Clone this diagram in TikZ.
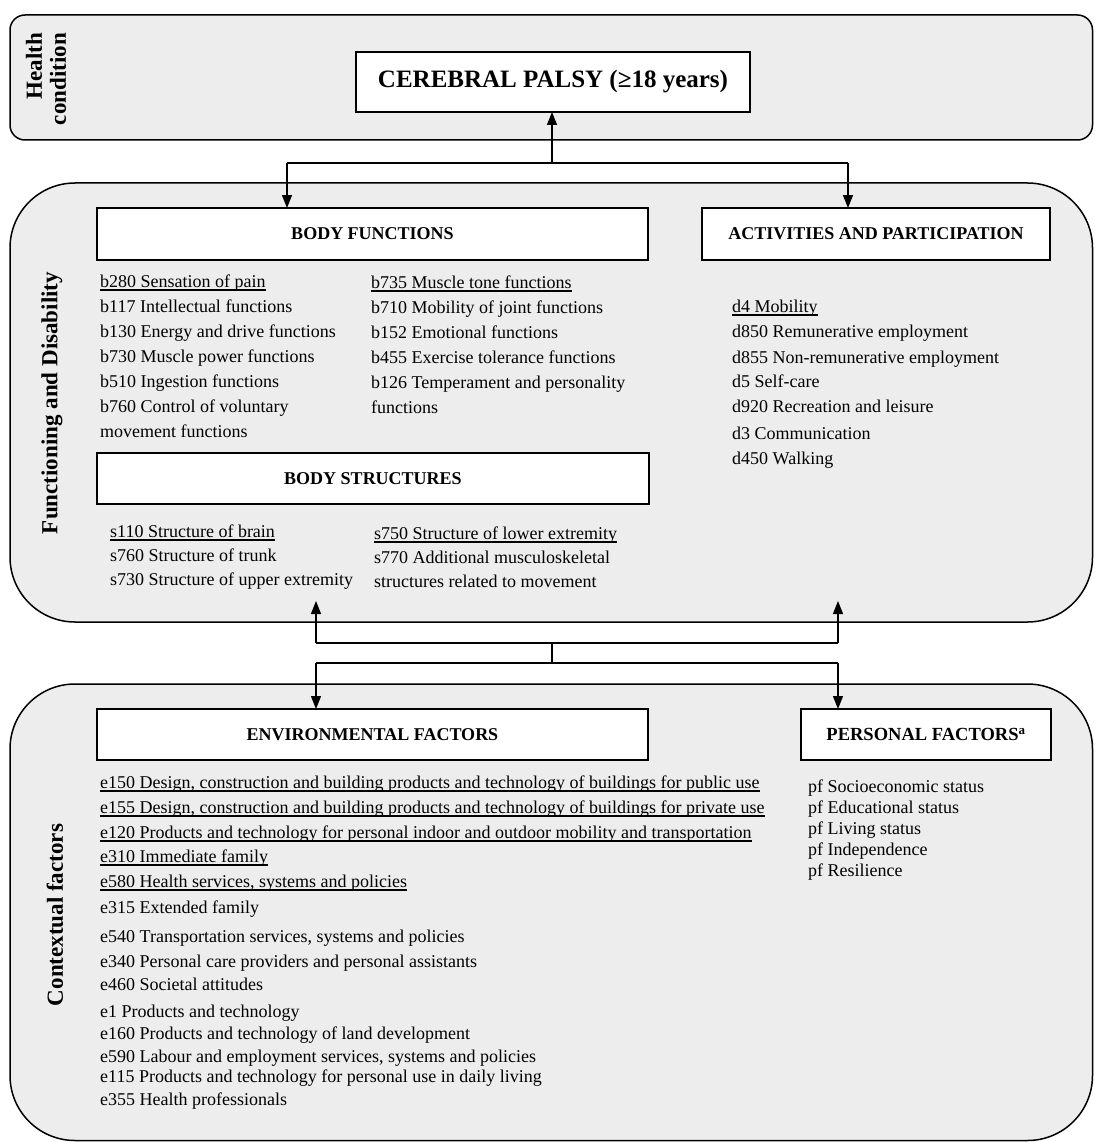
\documentclass[tikz,border=0pt]{standalone}
\usepackage{fontspec}
\setmainfont{Liberation Serif}
\usetikzlibrary{arrows.meta}
\definecolor{regfill}{HTML}{EDEDED}
\newcommand{\ulin}[1]{\setbox0=\hbox{#1}\rlap{\rule[-3.5pt]{\wd0}{1.6pt}}\box0}
\begin{document}
\begin{tikzpicture}[x=1pt,y=-1pt,
 region/.style={draw=black, line width=1.5pt, fill=regfill, inner sep=0pt, outer sep=0pt, anchor=north west},
 hbox/.style={draw=black, line width=1.6pt, fill=white, inner sep=0pt, outer sep=0pt, anchor=north west, font=\fontsize{18pt}{20pt}\selectfont\bfseries},
 item/.style={anchor=base west, inner sep=0pt, font=\fontsize{18pt}{22pt}\selectfont},
 side/.style={rotate=90, inner sep=0pt, font=\fontsize{23pt}{24pt}\selectfont\bfseries, align=right},
 conn/.style={line width=1.3pt, -{Triangle[length=13pt,width=10pt]}},
 wire/.style={line width=1.3pt}]
\useasboundingbox (0,0) rectangle (1094,1142);

% regions
\node[region, rounded corners=15pt, minimum width=1082.5pt, minimum height=125pt] (hcbox) at (10,15) {};
\node[region, rounded corners=65pt, minimum width=1082.5pt, minimum height=439pt] (fdbox) at (10,183) {};
\node[region, rounded corners=65pt, minimum width=1082.5pt, minimum height=456.5pt] (cfbox) at (10,684) {};

% side labels
\node[side] (hclab) at (46,79) {Health\\condition};
\node[side] (fdlab) at (52,403) {Functioning and Disability};
\node[side] (cflab) at (55,915) {Contextual factors};

% header boxes
\node[hbox, minimum width=394pt, minimum height=60pt, font=\fontsize{25pt}{28pt}\selectfont\bfseries] (cp) at (356,52) {CEREBRAL PALSY (≥18 years)};
\node[hbox, minimum width=551pt, minimum height=52pt] (bf) at (97,208) {BODY FUNCTIONS};
\node[hbox, minimum width=348pt, minimum height=52pt] (ap) at (702,208) {ACTIVITIES AND PARTICIPATION};
\node[hbox, minimum width=552pt, minimum height=51pt] (bs) at (97,453) {BODY STRUCTURES};
\node[hbox, minimum width=551pt, minimum height=51pt] (env) at (97,709) {ENVIRONMENTAL FACTORS};
\node[hbox, minimum width=250pt, minimum height=51pt, font=\fontsize{18.5pt}{20pt}\selectfont\bfseries] (pf) at (801,709) {PERSONAL FACTORS\textsuperscript{a}};

% body functions
\node[item] (b280) at (100,287) {\ulin{b280 Sensation of pain}};
\node[item] (b117) at (100,312) {b117 Intellectual functions};
\node[item] (b130) at (100,337) {b130 Energy and drive functions};
\node[item] (b730) at (100,362) {b730 Muscle power functions};
\node[item] (b510) at (100,387) {b510 Ingestion functions};
\node[item] (b760) at (100,412) {b760 Control of voluntary};
\node[item] (b760b) at (100,437) {movement functions};
\node[item] (b735) at (371,288) {\ulin{b735 Muscle tone functions}};
\node[item] (b710) at (371,313) {b710 Mobility of joint functions};
\node[item] (b152) at (371,338) {b152 Emotional functions};
\node[item] (b455) at (371,363) {b455 Exercise tolerance functions};
\node[item] (b126) at (371,388) {b126 Temperament and personality};
\node[item] (b126b) at (371,413) {functions};

% activities and participation
\node[item] (d4) at (732,312) {\ulin{d4 Mobility}};
\node[item] (d850) at (732,337) {d850 Remunerative employment};
\node[item] (d855) at (732,363) {d855 Non-remunerative employment};
\node[item] (d5) at (732,387) {d5 Self-care};
\node[item] (d920) at (732,412) {d920 Recreation and leisure};
\node[item] (d3) at (732,439) {d3 Communication};
\node[item] (d450) at (732,464) {d450 Walking};

% body structures
\node[item] (s110) at (110,537) {\ulin{s110 Structure of brain}};
\node[item] (s760) at (110,561) {s760 Structure of trunk};
\node[item] (s730) at (110,585) {s730 Structure of upper extremity};
\node[item] (s750) at (374,539) {\ulin{s750 Structure of lower extremity}};
\node[item] (s770) at (374,563) {s770 Additional musculoskeletal};
\node[item] (s770b) at (374,587) {structures related to movement};

% environmental factors
\node[item] (e150) at (100,788) {\ulin{e150 Design, construction and building products and technology of buildings for public use}};
\node[item] (e155) at (100,813) {\ulin{e155 Design, construction and building products and technology of buildings for private use}};
\node[item] (e120) at (100,838) {\ulin{e120 Products and technology for personal indoor and outdoor mobility and transportation}};
\node[item] (e310) at (100,862) {\ulin{e310 Immediate family}};
\node[item] (e580) at (100,887) {\ulin{e580 Health services, systems and policies}};
\node[item] (e315) at (100,913) {e315 Extended family};
\node[item] (e540) at (100,942) {e540 Transportation services, systems and policies};
\node[item] (e340) at (100,967) {e340 Personal care providers and personal assistants};
\node[item] (e460) at (100,990) {e460 Societal attitudes};
\node[item] (e1) at (100,1017) {e1 Products and technology};
\node[item] (e160) at (100,1039) {e160 Products and technology of land development};
\node[item] (e590) at (100,1062) {e590 Labour and employment services, systems and policies};
\node[item] (e115) at (100,1082) {e115 Products and technology for personal use in daily living};
\node[item] (e355) at (100,1105) {e355 Health professionals};

% personal factors
\node[item] (pf1) at (808,792) {pf Socioeconomic status};
\node[item] (pf2) at (808,813) {pf Educational status};
\node[item] (pf3) at (808,834) {pf Living status};
\node[item] (pf4) at (808,855) {pf Independence};
\node[item] (pf5) at (808,876) {pf Resilience};

% connectors top
\coordinate (tj) at (552,163);
\coordinate (tl) at (287,163);
\coordinate (tr) at (848,163);
\draw[wire] (tl) -- (tr);
\draw[conn] (tj) -- (tj |- cp.south);
\draw[conn] (tl) -- (tl |- bf.north);
\draw[conn] (tr) -- (tr |- ap.north);

% connectors bottom
\coordinate (uj) at (552,643);
\coordinate (ul) at (316,643);
\coordinate (ur) at (838,643);
\coordinate (ua) at (316,601);
\coordinate (ub) at (838,601);
\coordinate (lj) at (552,663);
\coordinate (ll) at (316,663);
\coordinate (lr) at (838,663);
\draw[wire] (ul) -- (ur);
\draw[conn] (ul) -- (ua);
\draw[conn] (ur) -- (ub);
\draw[wire] (uj) -- (lj);
\draw[wire] (ll) -- (lr);
\draw[conn] (ll) -- (ll |- env.north);
\draw[conn] (lr) -- (lr |- pf.north);
\end{tikzpicture}
\end{document}
